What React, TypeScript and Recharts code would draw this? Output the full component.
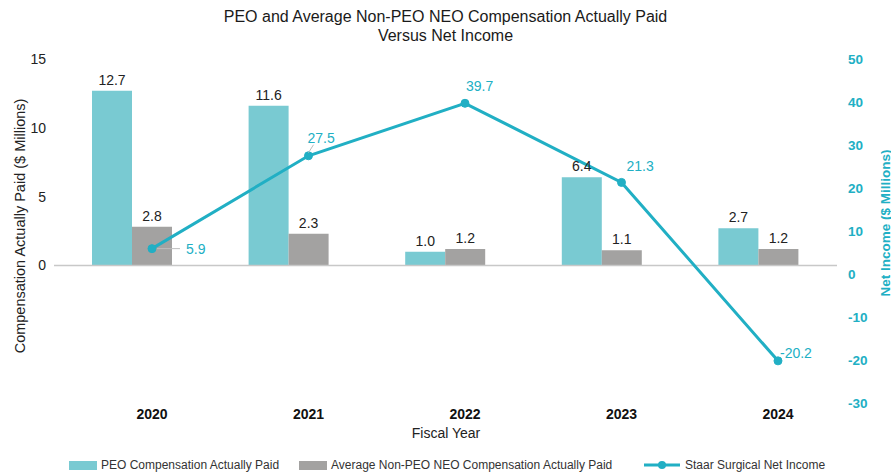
import { ComposedChart, Bar, Line, XAxis, YAxis, ReferenceLine, LabelList } from 'recharts';

const years = ['2020', '2021', '2022', '2023', '2024'];
const peoPaid = [12.7, 11.6, 1.0, 6.4, 2.7];
const neoPaid = [2.8, 2.3, 1.2, 1.1, 1.2];
const netIncome = [5.9, 27.5, 39.7, 21.3, -20.2];
const leftTicks = [0, 5, 10, 15];
const rightTicks = [-30, -20, -10, 0, 10, 20, 30, 40, 50];

const data = years.map((year, i) => ({
  year,
  idx: i,
  peo: peoPaid[i],
  neo: neoPaid[i],
  net: netIncome[i],
}));

const TEAL_BAR = '#79cad2';
const GRAY_BAR = '#a3a2a1';
const TEAL = '#21afc4';
const FONT = '"Liberation Sans", Arial, Helvetica, sans-serif';

// label placement for the net income points (dx from point to text start, dy to text center)
const netLabelPos = [
  { dx: 34, dy: 0, lead: [5, 0, 28, 0] },
  { dx: -1, dy: -18, lead: [0, -3, 5, -11] },
  { dx: 1, dy: -17, lead: null },
  { dx: 5, dy: -16, lead: null },
  { dx: 2, dy: -8, lead: null },
];

const NetLabel = (props: any) => {
  const { x, y, value, index } = props;
  const p = netLabelPos[index];
  return (
    <g>
      {p.lead && (
        <line x1={x + p.lead[0]} y1={y + p.lead[1]} x2={x + p.lead[2]} y2={y + p.lead[3]} stroke="#bdbdbd" strokeWidth={1} />
      )}
      <text x={x + p.dx} y={y + p.dy} dominantBaseline="central" fill={TEAL} fontSize={14} fontFamily={FONT}>
        {value.toFixed(1)}
      </text>
    </g>
  );
};

const fmt = (v: any) => Number(v).toFixed(1);

export default function App() {
  return (
    <div style={{ position: 'absolute', left: 0, top: 0, width: 891, height: 474, background: '#fff', fontFamily: FONT }}>
      <div style={{ position: 'absolute', left: 0, top: 7, width: 891, textAlign: 'center', fontSize: 16, lineHeight: '19px', color: '#1a1a1a' }}>
        PEO and Average Non-PEO NEO Compensation Actually Paid
        <br />
        Versus Net Income
      </div>
      <ComposedChart width={891} height={474} data={data} margin={{ top: 59, right: 0, bottom: 41, left: 0 }} barGap={0}>
        <XAxis
          xAxisId="line"
          dataKey="idx"
          type="number"
          domain={[-0.626, 4.377]}
          ticks={[0, 1, 2, 3, 4]}
          tickFormatter={(i: number) => years[i]}
          axisLine={false}
          tickLine={false}
          tickMargin={0}
          height={30}
          tick={{ fill: '#111', fontSize: 14, fontWeight: 'bold', fontFamily: FONT }}
          label={{ value: 'Fiscal Year', content: () => (
            <text x={446} y={433} textAnchor="middle" dominantBaseline="central" fontSize={14} fill="#222" fontFamily={FONT}>Fiscal Year</text>
          ) }}
        />
        <XAxis xAxisId="bar" dataKey="year" type="category" hide height={0} />
        <YAxis
          yAxisId="left"
          domain={[-10, 15]}
          ticks={leftTicks}
          width={54}
          axisLine={false}
          tickLine={false}
          tick={{ fill: '#222', fontSize: 14, fontFamily: FONT }}
          label={{ value: 'Compensation Actually Paid ($ Millions)', content: () => (
            <text x={20} y={226} transform="rotate(-90 20 226)" textAnchor="middle" dominantBaseline="central" fontSize={14.5} fill="#222" fontFamily={FONT}>
              Compensation Actually Paid ($ Millions)
            </text>
          ) }}
        />
        <YAxis
          yAxisId="right"
          orientation="right"
          domain={[-30, 50]}
          ticks={rightTicks}
          width={54}
          axisLine={false}
          tickLine={false}
          tickMargin={5}
          tick={{ fill: TEAL, fontSize: 13.5, fontWeight: 'bold', fontFamily: FONT }}
          label={{ value: 'Net Income ($ Millions)', content: () => (
            <text x={885} y={223} transform="rotate(-90 885 223)" textAnchor="middle" dominantBaseline="central" fontSize={13.5} fontWeight="bold" fill={TEAL} fontFamily={FONT}>
              Net Income ($ Millions)
            </text>
          ) }}
        />
        <ReferenceLine yAxisId="left" xAxisId="bar" y={0} stroke="#c8c8c8" strokeWidth={1.5} />
        <Bar xAxisId="bar" yAxisId="left" dataKey="peo" fill={TEAL_BAR} barSize={40} isAnimationActive={false}>
          <LabelList dataKey="peo" position="top" offset={6} formatter={fmt} fill="#222" fontSize={14} fontFamily={FONT} />
        </Bar>
        <Bar xAxisId="bar" yAxisId="left" dataKey="neo" fill={GRAY_BAR} barSize={40} isAnimationActive={false}>
          <LabelList dataKey="neo" position="top" offset={6} formatter={fmt} fill="#222" fontSize={14} fontFamily={FONT} />
        </Bar>
        <Line
          xAxisId="line"
          yAxisId="right"
          dataKey="net"
          stroke={TEAL}
          strokeWidth={3}
          dot={{ r: 4, fill: TEAL, stroke: TEAL, strokeWidth: 1 }}
          isAnimationActive={false}
        >
          <LabelList dataKey="net" content={NetLabel} />
        </Line>
      </ComposedChart>
      <div style={{ position: 'absolute', left: 0, top: 458, width: 891, height: 16, fontSize: 12, color: '#333', lineHeight: '14px' }}>
        <div style={{ position: 'absolute', left: 69, top: 3, width: 28, height: 9, background: TEAL_BAR }} />
        <div style={{ position: 'absolute', left: 101, top: 0, whiteSpace: 'nowrap' }}>PEO Compensation Actually Paid</div>
        <div style={{ position: 'absolute', left: 299, top: 3, width: 28, height: 9, background: GRAY_BAR }} />
        <div style={{ position: 'absolute', left: 331, top: 0, whiteSpace: 'nowrap' }}>Average Non-PEO NEO Compensation Actually Paid</div>
        <svg style={{ position: 'absolute', left: 644, top: 0 }} width={36} height={14}>
          <line x1={0} y1={7} x2={36} y2={7} stroke={TEAL} strokeWidth={3} />
          <circle cx={18} cy={7} r={4} fill={TEAL} />
        </svg>
        <div style={{ position: 'absolute', left: 685, top: 0, whiteSpace: 'nowrap' }}>Staar Surgical Net Income</div>
      </div>
    </div>
  );
}
